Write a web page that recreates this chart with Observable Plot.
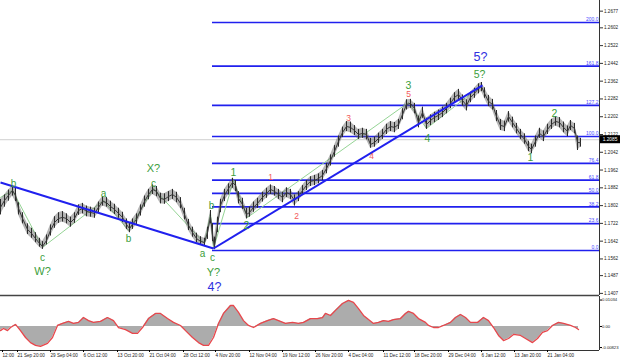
<!DOCTYPE html>
<html><head><meta charset="utf-8">
<script src="https://cdn.jsdelivr.net/npm/d3@7"></script>
<script src="https://cdn.jsdelivr.net/npm/@observablehq/plot@0.6"></script>
<style>
html,body{margin:0;padding:0;background:#fff;}
#chart{width:620px;height:361px;overflow:hidden;position:relative;background:#fff;}
#chart svg{display:block;}
</style></head><body><div id="chart"></div>
<script>
// ---------- price series (H4 bars, sampled) ----------
const barIndex = [0,4,8,12,15,18,22,27,31,35,
 39,42,46,50,54,58,62,66,70,74,
 78,82,86,90,94,98,102,106,110,114,
 118,122,126,129,132,136,140,144,148,152,
 156,160,164,168,172,176,180,184,188,192,
 196,200,204,207,210,212,214,217,220,224,
 228,232,235,238,242,246,249,253,257,262,
 266,270,274,278,282,286,290,294,298,302,
 306,310,314,318,322,326,330,334,338,342,
 346,350,354,358,362,366,370,374,378,382,
 386,390,394,398,402,406,410,414,418,422,
 426,430,434,438,442,446,450,454,458,462,
 466,470,474,478,481,484,488,492,496,500,
 504,508,512,516,520,524,528,531,535,539,
 543,547,551,555,559,563,567,570,574,577,
 580];
const priceHigh = [1.1830,1.1850,1.1872,1.1890,1.1880,1.1815,1.1770,1.1720,1.1700,1.1680,
 1.1655,1.1640,1.1670,1.1715,1.1752,1.1770,1.1775,1.1765,1.1750,1.1770,
 1.1805,1.1812,1.1800,1.1795,1.1790,1.1818,1.1842,1.1838,1.1822,1.1808,
 1.1790,1.1772,1.1742,1.1722,1.1742,1.1765,1.1805,1.1845,1.1875,1.1895,
 1.1888,1.1858,1.1855,1.1865,1.1875,1.1862,1.1838,1.1790,1.1740,1.1705,
 1.1678,1.1662,1.1655,1.1705,1.1780,1.1720,1.1660,1.1750,1.1830,1.1875,
 1.1900,1.1925,1.1915,1.1865,1.1835,1.1790,1.1795,1.1818,1.1835,1.1862,
 1.1880,1.1895,1.1888,1.1875,1.1862,1.1882,1.1875,1.1850,1.1865,1.1892,
 1.1915,1.1932,1.1938,1.1945,1.1960,1.1992,1.2030,1.2072,1.2115,1.2155,
 1.2180,1.2178,1.2162,1.2145,1.2150,1.2145,1.2105,1.2110,1.2128,1.2145,
 1.2168,1.2180,1.2176,1.2190,1.2238,1.2278,1.2280,1.2262,1.2205,1.2245,
 1.2195,1.2210,1.2222,1.2232,1.2245,1.2262,1.2285,1.2310,1.2325,1.2300,
 1.2278,1.2312,1.2330,1.2350,1.2356,1.2332,1.2298,1.2280,1.2230,1.2190,
 1.2182,1.2225,1.2200,1.2172,1.2145,1.2125,1.2092,1.2078,1.2115,1.2150,
 1.2138,1.2168,1.2190,1.2202,1.2198,1.2178,1.2160,1.2185,1.2172,1.2115,
 1.2105];
const priceLow = [1.1760,1.1795,1.1822,1.1845,1.1820,1.1760,1.1720,1.1672,1.1655,1.1635,
 1.1615,1.1605,1.1625,1.1665,1.1700,1.1722,1.1728,1.1720,1.1705,1.1722,
 1.1758,1.1765,1.1752,1.1750,1.1745,1.1770,1.1800,1.1795,1.1775,1.1762,
 1.1745,1.1725,1.1695,1.1680,1.1695,1.1715,1.1755,1.1795,1.1828,1.1852,
 1.1842,1.1810,1.1808,1.1820,1.1830,1.1815,1.1788,1.1738,1.1690,1.1660,
 1.1635,1.1625,1.1620,1.1650,1.1720,1.1640,1.1604,1.1680,1.1770,1.1820,
 1.1850,1.1880,1.1865,1.1810,1.1785,1.1742,1.1750,1.1772,1.1790,1.1818,
 1.1835,1.1852,1.1845,1.1830,1.1815,1.1838,1.1830,1.1800,1.1820,1.1848,
 1.1870,1.1888,1.1892,1.1900,1.1915,1.1945,1.1980,1.2020,1.2065,1.2108,
 1.2135,1.2130,1.2118,1.2100,1.2105,1.2098,1.2060,1.2065,1.2082,1.2100,
 1.2122,1.2135,1.2130,1.2145,1.2188,1.2232,1.2240,1.2215,1.2152,1.2195,
 1.2145,1.2162,1.2175,1.2185,1.2198,1.2215,1.2238,1.2265,1.2278,1.2250,
 1.2228,1.2265,1.2285,1.2305,1.2315,1.2285,1.2248,1.2232,1.2180,1.2140,
 1.2135,1.2178,1.2152,1.2125,1.2100,1.2078,1.2045,1.2035,1.2065,1.2105,
 1.2090,1.2122,1.2145,1.2160,1.2152,1.2130,1.2112,1.2140,1.2125,1.2050,
 1.2065];
const priceClose = [1.1794,1.1825,1.1848,1.1870,1.1848,1.1789,1.1744,1.1695,1.1677,1.1654,
 1.1632,1.1618,1.1645,1.1690,1.1726,1.1744,1.1749,1.1744,1.1726,1.1744,
 1.1780,1.1789,1.1776,1.1771,1.1767,1.1794,1.1821,1.1816,1.1798,1.1785,
 1.1767,1.1749,1.1717,1.1699,1.1717,1.1740,1.1780,1.1821,1.1852,1.1875,
 1.1866,1.1834,1.1830,1.1843,1.1852,1.1839,1.1812,1.1762,1.1713,1.1681,
 1.1654,1.1641,1.1636,1.1681,1.1753,1.1668,1.1618,1.1713,1.1803,1.1848,
 1.1879,1.1906,1.1893,1.1834,1.1807,1.1762,1.1771,1.1794,1.1812,1.1839,
 1.1857,1.1875,1.1866,1.1852,1.1839,1.1861,1.1852,1.1825,1.1843,1.1870,
 1.1893,1.1911,1.1915,1.1924,1.1938,1.1969,1.2005,1.2046,1.2091,1.2131,
 1.2158,1.2154,1.2140,1.2122,1.2127,1.2122,1.2077,1.2086,1.2104,1.2122,
 1.2145,1.2158,1.2154,1.2167,1.2212,1.2257,1.2262,1.2239,1.2176,1.2221,
 1.2167,1.2185,1.2199,1.2208,1.2221,1.2239,1.2262,1.2289,1.2302,1.2275,
 1.2253,1.2289,1.2307,1.2329,1.2338,1.2307,1.2271,1.2257,1.2203,1.2163,
 1.2158,1.2203,1.2176,1.2149,1.2122,1.2100,1.2068,1.2055,1.2091,1.2127,
 1.2113,1.2145,1.2167,1.2181,1.2176,1.2154,1.2136,1.2163,1.2149,1.2086,
 1.2085];
const lastPrice = 1.2085;

// ---------- price axis ----------
const yTicks = [1.2677,1.2602,1.2522,1.2442,1.2362,1.2282,1.2202,1.2122,1.2042,1.1962,1.1882,1.1802,1.1722,1.1642,1.1562,1.1487,1.1407];
const yDomain = [1.13975, 1.2725];

// ---------- Fibonacci grid ----------
const fibLabel = ["0.0","23.6","38.2","50.0","61.8","76.4","100.0","127.2","161.8","200.0"];
const fibPrice = [1.1600,1.1721,1.1796,1.1857,1.1917,1.1992,1.2113,1.2253,1.2430,1.2626];
const fibStartX = 212;

// ---------- trend lines ----------
const trendX1 = [0, 213];
const trendP1 = [1.1906, 1.1609];
const trendX2 = [213, 482];
const trendP2 = [1.1609, 1.2343];

// ---------- wave path (light green) ----------
const waveX = [0,12,42,103,128,153,204,210,213,233,247,408,426,481];
const waveP = [1.1839,1.1870,1.1614,1.1825,1.1690,1.1879,1.1632,1.1767,1.1609,1.1915,1.1749,1.2266,1.2149,1.2343];

// ---------- wave labels ----------
const greenText = ["b","c","W?","a","b","c","X?","a","b","c","Y?","1","2","3","4","5?","1","2"];
const greenX    = [13,42,42,103,128,153,153,202,211,212,213,233,246,408,427,479,530,554];
const greenP    = [1.1901,1.1568,1.1505,1.1857,1.1654,1.1901,1.1969,1.1587,1.1803,1.1568,1.1501,1.1951,1.1713,1.2343,1.2104,1.2392,1.2019,1.2217];
const redText = ["1","2","3","4","5"];
const redX    = [270,296,348,371,408];
const redP    = [1.1929,1.1753,1.2194,1.2023,1.2302];
const blueText = ["4?","5?"];
const blueX    = [214,480];
const blueP    = [1.1434,1.2469];

// ---------- oscillator ----------
const indIndex = [0,3,7,10,15,20,25,30,35,40,47,52,57,62,68,73,78,83,88,93,100,107,113,118,125,132,137,142,148,155,160,167,173,180,185,192,198,203,208,213,218,223,230,233,238,243,248,253,260,267,273,278,285,292,298,303,310,317,322,325,330,335,342,348,353,358,363,368,373,378,383,388,393,400,405,408,413,418,425,428,433,438,443,450,455,460,465,470,477,483,488,493,498,503,508,513,520,525,532,537,542,547,552,558,563,570,575,578];
const indValue = [-0.0016,-0.0008,-0.0016,-0.0004,0.0008,-0.0016,-0.0043,-0.0063,-0.0074,-0.0078,
 -0.0066,-0.0043,0.0004,0.0012,0.0020,0.0012,0.0016,0.0035,0.0023,0.0016,
 0.0020,0.0035,0.0023,-0.0004,-0.0012,-0.0027,-0.0027,-0.0004,0.0031,0.0051,
 0.0051,0.0031,0.0016,0.0004,-0.0016,-0.0043,-0.0063,-0.0074,-0.0074,-0.0043,
 0.0012,0.0051,0.0082,0.0082,0.0055,0.0023,0.0004,-0.0004,0.0012,0.0023,
 0.0031,0.0023,0.0012,0.0016,0.0012,0.0016,0.0031,0.0031,0.0035,0.0051,
 0.0043,0.0063,0.0090,0.0102,0.0094,0.0070,0.0043,0.0027,0.0012,0.0016,
 0.0023,0.0020,0.0027,0.0031,0.0051,0.0059,0.0051,0.0031,0.0016,0.0004,
 -0.0004,-0.0004,0.0004,0.0016,0.0035,0.0047,0.0035,0.0016,0.0016,0.0035,
 0.0023,-0.0004,-0.0035,-0.0055,-0.0047,-0.0031,-0.0035,-0.0047,-0.0063,-0.0047,
 -0.0023,-0.0016,0.0004,0.0016,0.0012,0.0004,-0.0004,-0.0012];
const indTicks = [0.01034, 0, -0.00823];
const indTickLabel = ["0.01034","0.00","-0.00823"];
const indDomain = [-0.00938, 0.01172];

// ---------- time axis ----------
const dateTickX = [2,17,50,83,117,149,183,215,249,282,315,348,383,414,448,481,514,547];
const dateTickLabel = ["12:00","21 Sep 20:00","29 Sep 04:00","6 Oct 12:00","13 Oct 20:00","21 Oct 04:00","28 Oct 12:00","4 Nov 20:00","12 Nov 04:00","19 Nov 12:00","26 Nov 20:00","4 Dec 04:00","11 Dec 12:00","18 Dec 20:00","29 Dec 04:00","6 Jan 12:00","13 Jan 20:00","21 Jan 04:00"];

// ================= drawing =================
const FONT = "'Liberation Sans', Arial, sans-serif";
const BLUE = "#2020ee";
const GREEN = "#3c9e3c";
const RED = "#f25a5a";
const XMAX = 599;

const bars = barIndex.map((x, i) => ({x, high: priceHigh[i], low: priceLow[i], close: priceClose[i]}));
const wave = waveX.map((x, i) => ({x, y: waveP[i]}));
const trends = trendX1.map((x, i) => ({x1: x, y1: trendP1[i], x2: trendX2[i], y2: trendP2[i]}));
const mk = (T, X, P) => T.map((t, i) => ({t, x: X[i], y: P[i]}));
const greens = mk(greenText, greenX, greenP);
const reds = mk(redText, redX, redP);
const blues = mk(blueText, blueX, blueP);
const fibs = fibPrice.map((y, i) => ({y, t: fibLabel[i]}));
const ind = indIndex.map((x, i) => ({x, v: indValue[i]}));
const indLab = new Map(indTicks.map((v, i) => [v, indTickLabel[i]]));
const dateLab = new Map(dateTickX.map((v, i) => [v, dateTickLabel[i]]));

const main = Plot.plot({
  width: 620, height: 296,
  marginTop: 0, marginLeft: 0, marginRight: 21, marginBottom: 1,
  style: {fontFamily: FONT, background: "#fff", overflow: "visible"},
  x: {domain: [0, XMAX], axis: null, label: null},
  y: {domain: yDomain, axis: null, label: null},
  marks: [
    Plot.ruleY([lastPrice], {x1: 0, x2: XMAX, stroke: "#cfcfcf", dy: -3}),
    Plot.ruleY(fibs, {y: "y", x1: fibStartX, x2: XMAX, stroke: BLUE, strokeWidth: 1.7}),
    Plot.text(fibs, {x: XMAX - 1, y: "y", text: "t", textAnchor: "end", dy: -3, fontSize: 5, fill: "#4a4aff"}),
    Plot.line(wave, {x: "x", y: "y", stroke: "#95d495", strokeWidth: 1}),
    Plot.areaY(bars, {x: "x", y1: "low", y2: "high", fill: "#5a5a5a", fillOpacity: 0.45}),
    Plot.ruleX(bars, {x: "x", y1: "low", y2: "high", stroke: "#2a2a2a", strokeWidth: 1}),
    Plot.line(bars, {x: "x", y: "close", stroke: "#3a3a3a", strokeWidth: 1}),
    Plot.link(trends, {x1: "x1", y1: "y1", x2: "x2", y2: "y2", stroke: BLUE, strokeWidth: 2}),
    Plot.text(greens.filter(d => d.t.length === 1 && /[abc]/.test(d.t)), {x: "x", y: "y", text: "t", fill: GREEN, fontSize: 10}),
    Plot.text(greens.filter(d => /\d/.test(d.t)), {x: "x", y: "y", text: "t", fill: GREEN, fontSize: 10.5}),
    Plot.text(greens.filter(d => /[WXY]/.test(d.t)), {x: "x", y: "y", text: "t", fill: GREEN, fontSize: 11}),
    Plot.text(reds, {x: "x", y: "y", text: "t", fill: RED, fontSize: 8.5}),
    Plot.text(blues, {x: "x", y: "y", text: "t", fill: "#2f2fe0", fontSize: 12.5}),
    Plot.ruleX([XMAX], {stroke: "#333", strokeWidth: 1}),
    Plot.ruleY([yDomain[0]], {x1: 0, x2: XMAX, stroke: "#444", strokeWidth: 1.5}),
    Plot.axisY(yTicks, {anchor: "right", tickFormat: d => d.toFixed(4), tickSize: 3, tickPadding: 1.5, fontSize: 4.6, fill: "#222", stroke: "#333", label: null})
  ]
});

const osc = Plot.plot({
  width: 620, height: 65,
  marginTop: 0, marginLeft: 0, marginRight: 21, marginBottom: 11,
  style: {fontFamily: FONT, background: "#fff", overflow: "visible"},
  x: {domain: [0, XMAX], axis: null, label: null},
  y: {domain: indDomain, axis: null, label: null},
  marks: [
    Plot.areaY(ind, {x: "x", y1: 0, y2: "v", fill: "#acacac"}),
    Plot.line(ind, {x: "x", y: "v", stroke: "#e8474c", strokeWidth: 1.3}),
    Plot.ruleX([XMAX], {stroke: "#333"}),
    Plot.ruleY([indDomain[0]], {x1: 0, x2: XMAX, stroke: "#333"}),
    Plot.axisY(indTicks, {anchor: "right", tickFormat: d => indLab.get(d), tickSize: 2, tickPadding: 0.5, fontSize: 4.2, fill: "#222", label: null}),
    Plot.axisX(dateTickX, {anchor: "bottom", tickFormat: d => dateLab.get(d), tickSize: 2, tickPadding: 1.5, textAnchor: "start", fontSize: 4.6, fill: "#222", label: null})
  ]
});

const host = document.getElementById("chart");
host.append(main, osc);

// current price box on the price axis
const py = main.scale("y").apply(lastPrice) - 3;
const g = d3.select(main).append("g");
g.append("rect").attr("x", 600).attr("y", py - 4).attr("width", 20).attr("height", 8).attr("fill", "#000");
g.append("text").attr("x", 610).attr("y", py).attr("dy", "0.35em").attr("text-anchor", "middle")
  .attr("fill", "#fff").attr("font-size", 4.8).attr("font-family", FONT).text(lastPrice.toFixed(4));
</script>
</body></html>
